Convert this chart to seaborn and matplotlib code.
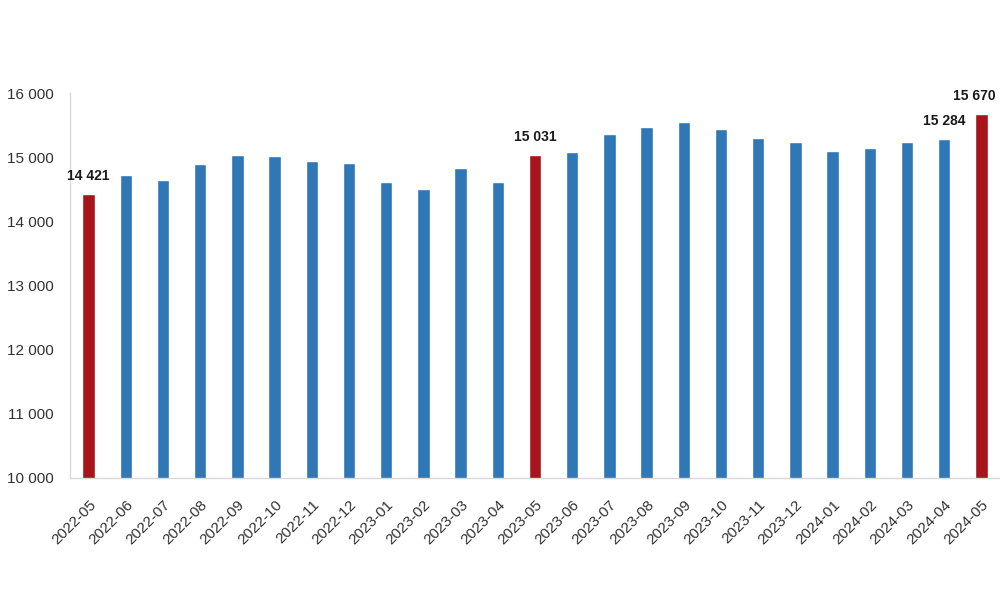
import matplotlib
matplotlib.use("Agg")
import matplotlib.pyplot as plt
import seaborn as sns
import pandas as pd
from matplotlib.ticker import FuncFormatter

months = ["2022-05", "2022-06", "2022-07", "2022-08", "2022-09", "2022-10", "2022-11",
          "2022-12", "2023-01", "2023-02", "2023-03", "2023-04", "2023-05", "2023-06",
          "2023-07", "2023-08", "2023-09", "2023-10", "2023-11", "2023-12", "2024-01",
          "2024-02", "2024-03", "2024-04", "2024-05"]
values = [14421, 14720, 14650, 14890, 15035, 15015, 14940, 14915, 14620, 14510, 14840,
          14610, 15031, 15080, 15370, 15470, 15545, 15445, 15300, 15240, 15090, 15140,
          15235, 15284, 15670]
highlight = ["2022-05", "2023-05", "2024-05"]
labelled = ["2022-05", "2023-05", "2024-04", "2024-05"]
yticks = [10000, 11000, 12000, 13000, 14000, 15000, 16000]

BLUE = "#2F77B5"
RED = "#A8141B"

df = pd.DataFrame({"month": months, "value": values})
palette = {m: (RED if m in highlight else BLUE) for m in months}

sns.set_theme(style="white")
plt.rcParams["font.family"] = ["Liberation Sans", "DejaVu Sans"]

fig = plt.figure(figsize=(10, 5.93), dpi=100)
ax = fig.add_axes([0.07, 0.194, 0.93, 0.649])

sns.barplot(data=df, x="month", y="value", hue="month", palette=palette,
            legend=False, width=0.33, ax=ax, saturation=1)

ax.set_ylim(10000, 16000)
ax.set_xlim(-0.5, len(months) - 0.5)
ax.set_yticks(yticks)
ax.yaxis.set_major_formatter(FuncFormatter(lambda v, p: f"{int(v):,}".replace(",", " ")))
ax.set_xlabel("")
ax.set_ylabel("")

for s in ["top", "right"]:
    ax.spines[s].set_visible(False)
for s in ["left", "bottom"]:
    ax.spines[s].set_color("#d9d9d9")
    ax.spines[s].set_linewidth(1)

ax.tick_params(axis="both", length=0, colors="#333333", labelsize=11)
ax.tick_params(axis="y", pad=12)
for lab in ax.get_xticklabels():
    lab.set_rotation(45)
    lab.set_ha("right")
    lab.set_va("top")
    lab.set_rotation_mode("anchor")
ax.tick_params(axis="x", pad=14)

for i, (m, v) in enumerate(zip(months, values)):
    if m in labelled:
        dx = -5 if i == len(months) - 1 else 0
        ax.annotate(f"{v:,}".replace(",", " "), (i, v), xytext=(dx, 8),
                    textcoords="offset points", ha="center", va="bottom",
                    fontsize=10, fontweight="bold", color="#1a1a1a",
                    annotation_clip=False)

fig.savefig("out.png", dpi=100)
